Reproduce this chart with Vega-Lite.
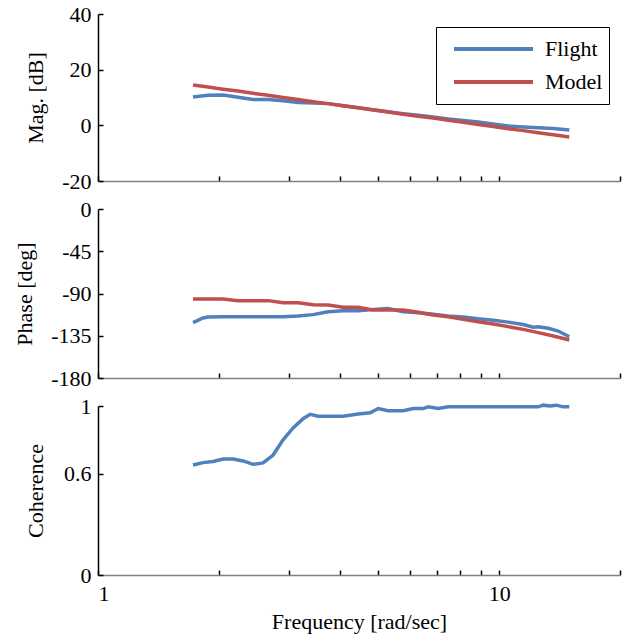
{
  "$schema": "https://vega.github.io/schema/vega-lite/v6.json",
  "padding": {"left": 13, "top": 3, "right": 3, "bottom": 3},
  "config": {
    "font": "Liberation Serif",
    "view": {"stroke": null},
    "axis": {"labelFont": "Liberation Serif", "titleFont": "Liberation Serif", "labelFontSize": 22, "titleFontSize": 22, "titleFontWeight": "normal", "labelColor": "black", "titleColor": "black", "grid": false},
    "legend": {"labelFont": "Liberation Serif"},
    "concat": {"spacing": 6}
  },
  "datasets": {
    "mag": [
      {"f": 1.725, "series": "Flight", "v": 10.2}, {"f": 1.881, "series": "Flight", "v": 10.8}, {"f": 2.050, "series": "Flight", "v": 10.9}, {"f": 2.234, "series": "Flight", "v": 10.1}, {"f": 2.435, "series": "Flight", "v": 9.3}, {"f": 2.654, "series": "Flight", "v": 9.3}, {"f": 2.893, "series": "Flight", "v": 8.8}, {"f": 3.153, "series": "Flight", "v": 8.2}, {"f": 3.437, "series": "Flight", "v": 8.0}, {"f": 3.746, "series": "Flight", "v": 7.8}, {"f": 4.083, "series": "Flight", "v": 7.0}, {"f": 4.450, "series": "Flight", "v": 6.3}, {"f": 4.851, "series": "Flight", "v": 5.6}, {"f": 5.287, "series": "Flight", "v": 4.9}, {"f": 5.763, "series": "Flight", "v": 4.2}, {"f": 6.281, "series": "Flight", "v": 3.6}, {"f": 6.846, "series": "Flight", "v": 3.0}, {"f": 7.462, "series": "Flight", "v": 2.3}, {"f": 8.133, "series": "Flight", "v": 1.7}, {"f": 8.864, "series": "Flight", "v": 1.2}, {"f": 9.661, "series": "Flight", "v": 0.5}, {"f": 10.53, "series": "Flight", "v": -0.2}, {"f": 11.48, "series": "Flight", "v": -0.6}, {"f": 12.51, "series": "Flight", "v": -0.9}, {"f": 13.64, "series": "Flight", "v": -1.1}, {"f": 14.95, "series": "Flight", "v": -1.7},
      {"f": 1.725, "series": "Model", "v": 14.5}, {"f": 1.881, "series": "Model", "v": 13.8}, {"f": 2.050, "series": "Model", "v": 13.0}, {"f": 2.234, "series": "Model", "v": 12.3}, {"f": 2.435, "series": "Model", "v": 11.5}, {"f": 2.654, "series": "Model", "v": 10.8}, {"f": 2.893, "series": "Model", "v": 10.0}, {"f": 3.153, "series": "Model", "v": 9.3}, {"f": 3.437, "series": "Model", "v": 8.5}, {"f": 3.746, "series": "Model", "v": 7.8}, {"f": 4.083, "series": "Model", "v": 7.0}, {"f": 4.450, "series": "Model", "v": 6.3}, {"f": 4.851, "series": "Model", "v": 5.5}, {"f": 5.287, "series": "Model", "v": 4.8}, {"f": 5.763, "series": "Model", "v": 4.0}, {"f": 6.281, "series": "Model", "v": 3.3}, {"f": 6.846, "series": "Model", "v": 2.6}, {"f": 7.462, "series": "Model", "v": 1.8}, {"f": 8.133, "series": "Model", "v": 1.1}, {"f": 8.864, "series": "Model", "v": 0.3}, {"f": 9.661, "series": "Model", "v": -0.4}, {"f": 10.53, "series": "Model", "v": -1.2}, {"f": 11.48, "series": "Model", "v": -1.9}, {"f": 12.51, "series": "Model", "v": -2.7}, {"f": 13.64, "series": "Model", "v": -3.4}, {"f": 14.95, "series": "Model", "v": -4.2}
    ],
    "phase": [
      {"f": 1.725, "series": "Flight", "v": -121}, {"f": 1.827, "series": "Flight", "v": -116}, {"f": 1.881, "series": "Flight", "v": -115}, {"f": 2.050, "series": "Flight", "v": -114.7}, {"f": 2.234, "series": "Flight", "v": -114.7}, {"f": 2.435, "series": "Flight", "v": -114.7}, {"f": 2.654, "series": "Flight", "v": -114.7}, {"f": 2.893, "series": "Flight", "v": -114.7}, {"f": 3.153, "series": "Flight", "v": -114}, {"f": 3.437, "series": "Flight", "v": -112.5}, {"f": 3.746, "series": "Flight", "v": -109.5}, {"f": 4.083, "series": "Flight", "v": -108.3}, {"f": 4.450, "series": "Flight", "v": -108.3}, {"f": 4.851, "series": "Flight", "v": -107}, {"f": 5.287, "series": "Flight", "v": -106}, {"f": 5.763, "series": "Flight", "v": -109.5}, {"f": 6.281, "series": "Flight", "v": -110.5}, {"f": 6.846, "series": "Flight", "v": -112}, {"f": 7.462, "series": "Flight", "v": -114}, {"f": 8.133, "series": "Flight", "v": -115}, {"f": 8.864, "series": "Flight", "v": -117}, {"f": 9.661, "series": "Flight", "v": -118.5}, {"f": 10.53, "series": "Flight", "v": -120.5}, {"f": 11.48, "series": "Flight", "v": -123}, {"f": 12.16, "series": "Flight", "v": -126}, {"f": 12.51, "series": "Flight", "v": -125.5}, {"f": 13.25, "series": "Flight", "v": -127}, {"f": 14.03, "series": "Flight", "v": -130}, {"f": 14.95, "series": "Flight", "v": -136},
      {"f": 1.725, "series": "Model", "v": -95.9}, {"f": 1.881, "series": "Model", "v": -95.9}, {"f": 2.050, "series": "Model", "v": -95.9}, {"f": 2.234, "series": "Model", "v": -97.6}, {"f": 2.435, "series": "Model", "v": -97.6}, {"f": 2.654, "series": "Model", "v": -97.6}, {"f": 2.893, "series": "Model", "v": -99.8}, {"f": 3.153, "series": "Model", "v": -99.8}, {"f": 3.437, "series": "Model", "v": -102}, {"f": 3.746, "series": "Model", "v": -102.2}, {"f": 4.083, "series": "Model", "v": -104.7}, {"f": 4.450, "series": "Model", "v": -104.7}, {"f": 4.851, "series": "Model", "v": -107.6}, {"f": 5.287, "series": "Model", "v": -107.6}, {"f": 5.763, "series": "Model", "v": -107.6}, {"f": 6.281, "series": "Model", "v": -110}, {"f": 6.846, "series": "Model", "v": -112.9}, {"f": 7.462, "series": "Model", "v": -114.7}, {"f": 8.133, "series": "Model", "v": -117.5}, {"f": 8.864, "series": "Model", "v": -120}, {"f": 9.661, "series": "Model", "v": -122.5}, {"f": 10.53, "series": "Model", "v": -125.3}, {"f": 11.48, "series": "Model", "v": -128.2}, {"f": 12.51, "series": "Model", "v": -131.7}, {"f": 13.64, "series": "Model", "v": -135.3}, {"f": 14.95, "series": "Model", "v": -139.5}
    ],
    "coh": [
      {"f": 1.725, "v": 0.651}, {"f": 1.827, "v": 0.665}, {"f": 1.936, "v": 0.672}, {"f": 2.050, "v": 0.686}, {"f": 2.171, "v": 0.686}, {"f": 2.299, "v": 0.675}, {"f": 2.435, "v": 0.655}, {"f": 2.579, "v": 0.663}, {"f": 2.732, "v": 0.71}, {"f": 2.893, "v": 0.80}, {"f": 3.064, "v": 0.87}, {"f": 3.245, "v": 0.925}, {"f": 3.379, "v": 0.951}, {"f": 3.538, "v": 0.94}, {"f": 3.746, "v": 0.94}, {"f": 4.083, "v": 0.94}, {"f": 4.450, "v": 0.953}, {"f": 4.769, "v": 0.96}, {"f": 4.993, "v": 0.985}, {"f": 5.287, "v": 0.972}, {"f": 5.763, "v": 0.972}, {"f": 6.105, "v": 0.985}, {"f": 6.465, "v": 0.985}, {"f": 6.653, "v": 0.995}, {"f": 7.046, "v": 0.985}, {"f": 7.462, "v": 0.995}, {"f": 8.864, "v": 0.995}, {"f": 10.53, "v": 0.995}, {"f": 12.51, "v": 0.995}, {"f": 12.87, "v": 1.005}, {"f": 13.40, "v": 1.0}, {"f": 13.87, "v": 1.005}, {"f": 14.44, "v": 0.995}, {"f": 14.95, "v": 0.995}
    ]
  },
  "vconcat": [
    {
      "width": 522, "height": 167,
      "data": {"name": "mag"},
      "mark": {"type": "line", "strokeWidth": 3.5},
      "encoding": {
        "x": {"field": "f", "type": "quantitative", "scale": {"type": "log", "domain": [1, 20], "nice": false},
          "axis": {"values": [1, 2, 3, 4, 5, 6, 7, 8, 9, 10, 20], "labels": false, "title": null, "tickSize": -5, "tickColor": "black", "tickWidth": 1.5, "domainColor": "#808080", "domainWidth": 1.5}},
        "y": {"field": "v", "type": "quantitative", "scale": {"domain": [-20, 40], "nice": false},
          "axis": {"values": [-20, 0, 20, 40], "labelExpr": "(datum.value < 0 ? '-' : '') + abs(datum.value)", "title": "Mag. [dB]", "tickSize": -5, "tickColor": "black", "tickWidth": 1.5, "labelPadding": 12, "titlePadding": 14, "domainColor": "black", "domainWidth": 1.5}},
        "color": {"field": "series", "type": "nominal", "scale": {"domain": ["Flight", "Model"], "range": ["#4F81BD", "#C0504D"]},
          "legend": {"title": null, "orient": "none", "legendX": 338, "legendY": 13, "symbolType": "stroke", "symbolSize": 6241, "symbolStrokeWidth": 4, "labelFontSize": 22, "labelFont": "Liberation Serif", "labelColor": "black", "strokeColor": "black", "padding": 6, "clipHeight": 32, "rowPadding": 1, "labelOffset": 10, "symbolOffset": 10}}
      }
    },
    {
      "width": 522, "height": 169,
      "data": {"name": "phase"},
      "mark": {"type": "line", "strokeWidth": 3.5},
      "encoding": {
        "x": {"field": "f", "type": "quantitative", "scale": {"type": "log", "domain": [1, 20], "nice": false},
          "axis": {"values": [1, 2, 3, 4, 5, 6, 7, 8, 9, 10, 20], "labels": false, "title": null, "tickSize": -5, "tickColor": "black", "tickWidth": 1.5, "domainColor": "#808080", "domainWidth": 1.5}},
        "y": {"field": "v", "type": "quantitative", "scale": {"domain": [-180, 0], "nice": false},
          "axis": {"values": [-180, -135, -90, -45, 0], "labelExpr": "(datum.value < 0 ? '-' : '') + abs(datum.value)", "title": "Phase [deg]", "tickSize": -5, "tickColor": "black", "tickWidth": 1.5, "labelPadding": 12, "titlePadding": 14, "domainColor": "black", "domainWidth": 1.5}},
        "color": {"field": "series", "type": "nominal", "scale": {"domain": ["Flight", "Model"], "range": ["#4F81BD", "#C0504D"]}, "legend": null}
      }
    },
    {
      "width": 522, "height": 169,
      "data": {"name": "coh"},
      "mark": {"type": "line", "strokeWidth": 3.5, "color": "#4F81BD"},
      "encoding": {
        "x": {"field": "f", "type": "quantitative", "scale": {"type": "log", "domain": [1, 20], "nice": false},
          "axis": {"values": [1, 2, 3, 4, 5, 6, 7, 8, 9, 10, 20], "labelExpr": "datum.value == 1 || datum.value == 10 ? '' + datum.value : ''", "title": "Frequency [rad/sec]", "tickSize": -5, "tickColor": "black", "tickWidth": 1.5, "labelPadding": 13, "titlePadding": 7, "domainColor": "#808080", "domainWidth": 1.5}},
        "y": {"field": "v", "type": "quantitative", "scale": {"domain": [0, 1], "nice": false},
          "axis": {"values": [0, 0.6, 1], "labelExpr": "'' + datum.value", "title": "Coherence", "tickSize": -5, "tickColor": "black", "tickWidth": 1.5, "labelPadding": 12, "titlePadding": 16, "domainColor": "black", "domainWidth": 1.5}}
      }
    }
  ]
}
